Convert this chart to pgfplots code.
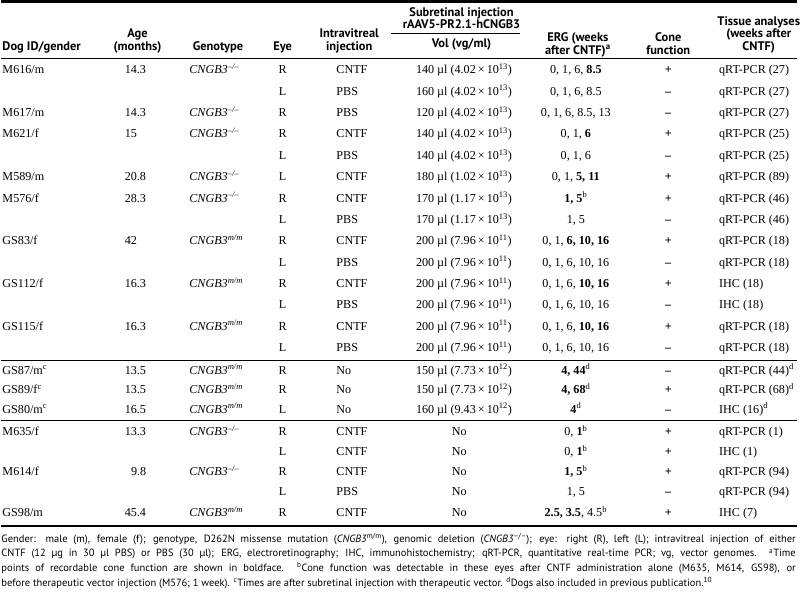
\documentclass[border=0pt]{standalone}
\usepackage{pgfplots}
\pgfplotsset{compat=1.18}
\usepackage{fontspec}
\setmainfont{Liberation Serif}
\newfontfamily\hdr{PT Sans}
\newcommand\bodyfont{\fontsize{12.2bp}{14bp}\selectfont}
\newcommand\hfont{\hdr\bfseries\fontsize{12.5bp}{14bp}\selectfont}
\newcommand\ffont{\hdr\fontsize{10.55bp}{12bp}\selectfont}
\newcommand\mm{\textit{CNGB3}\textsuperscript{\textit{m/m}}}
\newcommand\ko{\textit{CNGB3}\textsuperscript{\textit{–/–}}}
\newcommand\sps[1]{\textsuperscript{#1}}
\tikzset{
  L/.style={anchor=mid west, inner sep=0pt, font=\bodyfont},
  C/.style={anchor=mid, inner sep=0pt, font=\bodyfont},
  H/.style={anchor=mid, inner sep=0pt, font=\hfont},
  HL/.style={anchor=mid west, inner sep=0pt, font=\hfont},
  F/.style={anchor=mid west, inner sep=0pt, font=\ffont},
}
\newcommand\trow[7]{%
  \node[C] at (axis cs:283,#1) {#2};
  \node[L] at (axis cs:337,#1) {#3};
  \node[L] at (axis cs:417,#1) {#4};
  \node[C] at (axis cs:578,#1) {#5};
  \node[C] at (axis cs:671,#1) {\textbf{#6}};
  \node[L] at (axis cs:722,#1) {#7};}
\begin{document}
\begin{tikzpicture}
\begin{axis}[
  scale only axis, width=800bp, height=595bp,
  xmin=0, xmax=800, ymin=0, ymax=595, y dir=reverse,
  hide axis, clip=false,
]
\path (axis cs:0,0) rectangle (axis cs:800,595);
% rules
\draw[line width=2.6bp] (axis cs:0,1.3) -- (axis cs:800,1.3);
\draw[line width=0.9bp] (axis cs:392,34) -- (axis cs:522,34);
\draw[line width=1.2bp] (axis cs:0,59) -- (axis cs:800,59);
\draw[line width=1.2bp] (axis cs:0,362.5) -- (axis cs:800,362.5);
\draw[line width=1.2bp] (axis cs:0,423) -- (axis cs:800,423);
\draw[line width=1.5bp] (axis cs:0,529) -- (axis cs:800,529);
% header
\node[HL] at (axis cs:1,48.5) {Dog ID/gender};
\node[H] at (axis cs:137,35.5) {Age};
\node[H] at (axis cs:137,48.5) {(months)};
\node[H] at (axis cs:218,48.5) {Genotype};
\node[H] at (axis cs:283,48.5) {Eye};
\node[H] at (axis cs:350,35.5) {Intravitreal};
\node[H] at (axis cs:350,48.5) {injection};
\node[H] at (axis cs:463,14) {Subretinal injection};
\node[H] at (axis cs:463,26.8) {rAAV5-PR2.1-hCNGB3};
\node[H] at (axis cs:463,46) {Vol (vg/ml)};
\node[H] at (axis cs:580,39.5) {ERG (weeks};
\node[H] at (axis cs:580,52.3) {after CNTF)\sps{a}};
\node[H] at (axis cs:671,39.5) {Cone};
\node[H] at (axis cs:671,52.3) {function};
\node[H] at (axis cs:762,23) {Tissue analyses};
\node[H] at (axis cs:762,35.8) {(weeks after};
\node[H] at (axis cs:762,48.6) {CNTF)};
% column 1: dog id
\node[L] at (axis cs:1,72) {M616/m};
\node[L] at (axis cs:1,115) {M617/m};
\node[L] at (axis cs:1,136.5) {M621/f};
\node[L] at (axis cs:1,179.5) {M589/m};
\node[L] at (axis cs:1,201) {M576/f};
\node[L] at (axis cs:1,244) {GS83/f};
\node[L] at (axis cs:1,287) {GS112/f};
\node[L] at (axis cs:1,330) {GS115/f};
\node[L] at (axis cs:1,374) {GS87/m\sps{c}};
\node[L] at (axis cs:1,394) {GS89/f\sps{c}};
\node[L] at (axis cs:1,413.5) {GS80/m\sps{c}};
\node[L] at (axis cs:1,436) {M635/f};
\node[L] at (axis cs:1,476) {M614/f};
\node[L] at (axis cs:1,517.5) {GS98/m};
% age
\node[L] at (axis cs:124,72) {14.3};
\node[L] at (axis cs:124,115) {14.3};
\node[L] at (axis cs:124,136.5) {15};
\node[L] at (axis cs:124,179.5) {20.8};
\node[L] at (axis cs:124,201) {28.3};
\node[L] at (axis cs:124,244) {42};
\node[L] at (axis cs:124,287) {16.3};
\node[L] at (axis cs:124,330) {16.3};
\node[L] at (axis cs:124,374) {13.5};
\node[L] at (axis cs:124,394) {13.5};
\node[L] at (axis cs:124,413.5) {16.5};
\node[L] at (axis cs:124,436) {13.3};
\node[anchor=mid east, inner sep=0pt, font=\bodyfont] at (axis cs:146,476) {9.8};
\node[L] at (axis cs:124,517.5) {45.4};
% genotype
\node[L] at (axis cs:189,72) {\ko};
\node[L] at (axis cs:189,115) {\ko};
\node[L] at (axis cs:189,136.5) {\ko};
\node[L] at (axis cs:189,179.5) {\ko};
\node[L] at (axis cs:189,201) {\ko};
\node[L] at (axis cs:189,244) {\mm};
\node[L] at (axis cs:189,287) {\mm};
\node[L] at (axis cs:189,330) {\mm};
\node[L] at (axis cs:189,374) {\mm};
\node[L] at (axis cs:189,394) {\mm};
\node[L] at (axis cs:189,413.5) {\mm};
\node[L] at (axis cs:189,436) {\ko};
\node[L] at (axis cs:189,476) {\ko};
\node[L] at (axis cs:189,517.5) {\mm};
% eye / intravitreal / subretinal / ERG / cone / tissue
\trow{72}{R}{CNTF}{140 µl (4.02\,×\,10\sps{13})}{0, 1, 6, \textbf{8.5}}{+}{qRT-PCR (27)}
\trow{93.5}{L}{PBS}{160 µl (4.02\,×\,10\sps{13})}{0, 1, 6, 8.5}{–}{qRT-PCR (27)}
\trow{115}{R}{PBS}{120 µl (4.02\,×\,10\sps{13})}{0, 1, 6, 8.5, 13}{–}{qRT-PCR (27)}
\trow{136.5}{R}{CNTF}{140 µl (4.02\,×\,10\sps{13})}{0, 1, \textbf{6}}{+}{qRT-PCR (25)}
\trow{158}{L}{PBS}{140 µl (4.02\,×\,10\sps{13})}{0, 1, 6}{–}{qRT-PCR (25)}
\trow{179.5}{L}{CNTF}{180 µl (1.02\,×\,10\sps{13})}{0, 1, \textbf{5, 11}}{+}{qRT-PCR (89)}
\trow{201}{R}{CNTF}{170 µl (1.17\,×\,10\sps{13})}{\textbf{1, 5}\sps{b}}{+}{qRT-PCR (46)}
\trow{222.5}{L}{PBS}{170 µl (1.17\,×\,10\sps{13})}{1, 5}{–}{qRT-PCR (46)}
\trow{244}{R}{CNTF}{200 µl (7.96\,×\,10\sps{11})}{0, 1, \textbf{6, 10, 16}}{+}{qRT-PCR (18)}
\trow{265.5}{L}{PBS}{200 µl (7.96\,×\,10\sps{11})}{0, 1, 6, 10, 16}{–}{qRT-PCR (18)}
\trow{287}{R}{CNTF}{200 µl (7.96\,×\,10\sps{11})}{0, 1, 6, \textbf{10, 16}}{+}{IHC (18)}
\trow{308.5}{L}{PBS}{200 µl (7.96\,×\,10\sps{11})}{0, 1, 6, 10, 16}{–}{IHC (18)}
\trow{330}{R}{CNTF}{200 µl (7.96\,×\,10\sps{11})}{0, 1, 6, \textbf{10, 16}}{+}{qRT-PCR (18)}
\trow{351.5}{L}{PBS}{200 µl (7.96\,×\,10\sps{11})}{0, 1, 6, 10, 16}{–}{qRT-PCR (18)}
\trow{374}{R}{No}{150 µl (7.73\,×\,10\sps{12})}{\textbf{4, 44}\sps{d}}{–}{qRT-PCR (44)\sps{d}}
\trow{394}{R}{No}{150 µl (7.73\,×\,10\sps{12})}{\textbf{4, 68}\sps{d}}{+}{qRT-PCR (68)\sps{d}}
\trow{413.5}{L}{No}{160 µl (9.43\,×\,10\sps{12})}{\textbf{4}\sps{d}}{–}{IHC (16)\sps{d}}
\trow{436}{R}{CNTF}{\hspace*{36bp}No}{0, \textbf{1}\sps{b}}{+}{qRT-PCR (1)}
\trow{456}{L}{CNTF}{\hspace*{36bp}No}{0, \textbf{1}\sps{b}}{+}{IHC (1)}
\trow{476}{R}{CNTF}{\hspace*{36bp}No}{\textbf{1, 5}\sps{b}}{+}{qRT-PCR (94)}
\trow{496.5}{L}{PBS}{\hspace*{36bp}No}{1, 5}{–}{qRT-PCR (94)}
\trow{517.5}{R}{CNTF}{\hspace*{36bp}No}{\textbf{2.5, 3.5}, 4.5\sps{b}}{+}{IHC (7)}
% footnotes
\node[F] at (axis cs:0,543) {\makebox[799bp][s]{Gender: male (m), female (f); genotype, D262N missense mutation (\textit{CNGB3}\sps{m/m}), genomic deletion (\textit{CNGB3}\sps{–/–}); eye: right (R), left (L); intravitreal injection of either}};
\node[F] at (axis cs:0,558) {\makebox[799bp][s]{CNTF (12 µg in 30 µl PBS) or PBS (30 µl); ERG, electroretinography; IHC, immunohistochemistry; qRT-PCR, quantitative real-time PCR; vg, vector genomes. \sps{a}Time}};
\node[F] at (axis cs:0,573) {\makebox[799bp][s]{points of recordable cone function are shown in boldface. \sps{b}Cone function was detectable in these eyes after CNTF administration alone (M635, M614, GS98), or}};
\node[F] at (axis cs:0,588) {before therapeutic vector injection (M576; 1 week). \sps{c}Times are after subretinal injection with therapeutic vector. \sps{d}Dogs also included in previous publication.\sps{10}};
\end{axis}
\end{tikzpicture}
\end{document}
